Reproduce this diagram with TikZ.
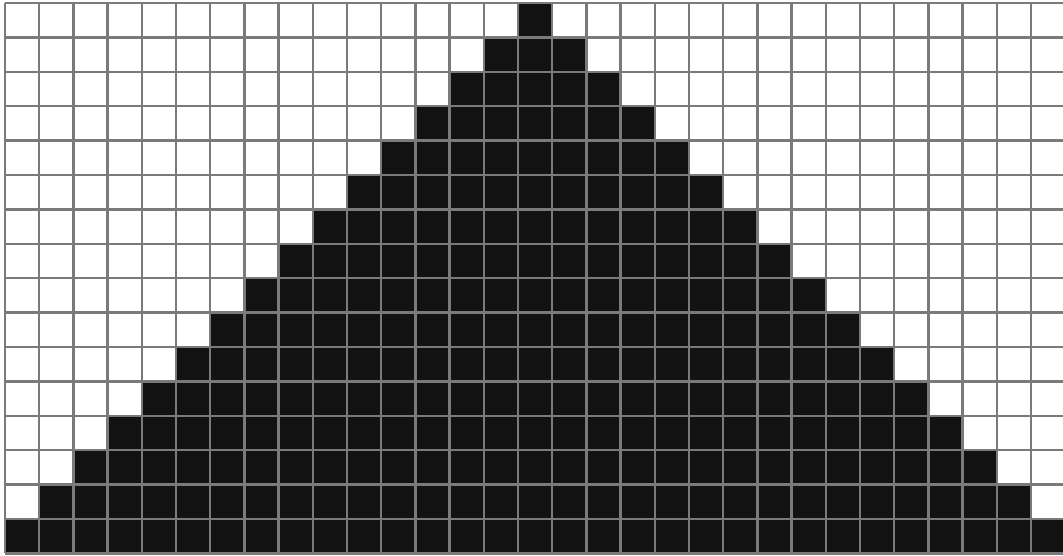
\documentclass[tikz,border=0pt]{standalone}
\begin{document}
\begin{tikzpicture}[x=0.75pt,y=-0.75pt,
  cellfill/.style={fill=black!93},
  gridline/.style={draw=black!52, line width=1.9pt}]
\useasboundingbox (0,0) rectangle (1063,556);
\clip (0,0) rectangle (1063,556);
\fill[white] (0,0) rectangle (1063,556);
\foreach \r in {0,...,15} {
  \pgfmathtruncatemacro\a{15-\r}
  \pgfmathtruncatemacro\b{16+\r}
  \fill[cellfill] ({5+\a*34.2},{3+\r*34.4}) rectangle ({5+\b*34.2},{3+(\r+1)*34.4});
}
\foreach \i in {0,...,31} \draw[gridline] ({5+\i*34.2},3) -- ({5+\i*34.2},{3+16*34.4});
\foreach \j in {0,...,16} \draw[gridline] (5,{3+\j*34.4}) -- ({5+31*34.2},{3+\j*34.4});
\end{tikzpicture}
\end{document}
